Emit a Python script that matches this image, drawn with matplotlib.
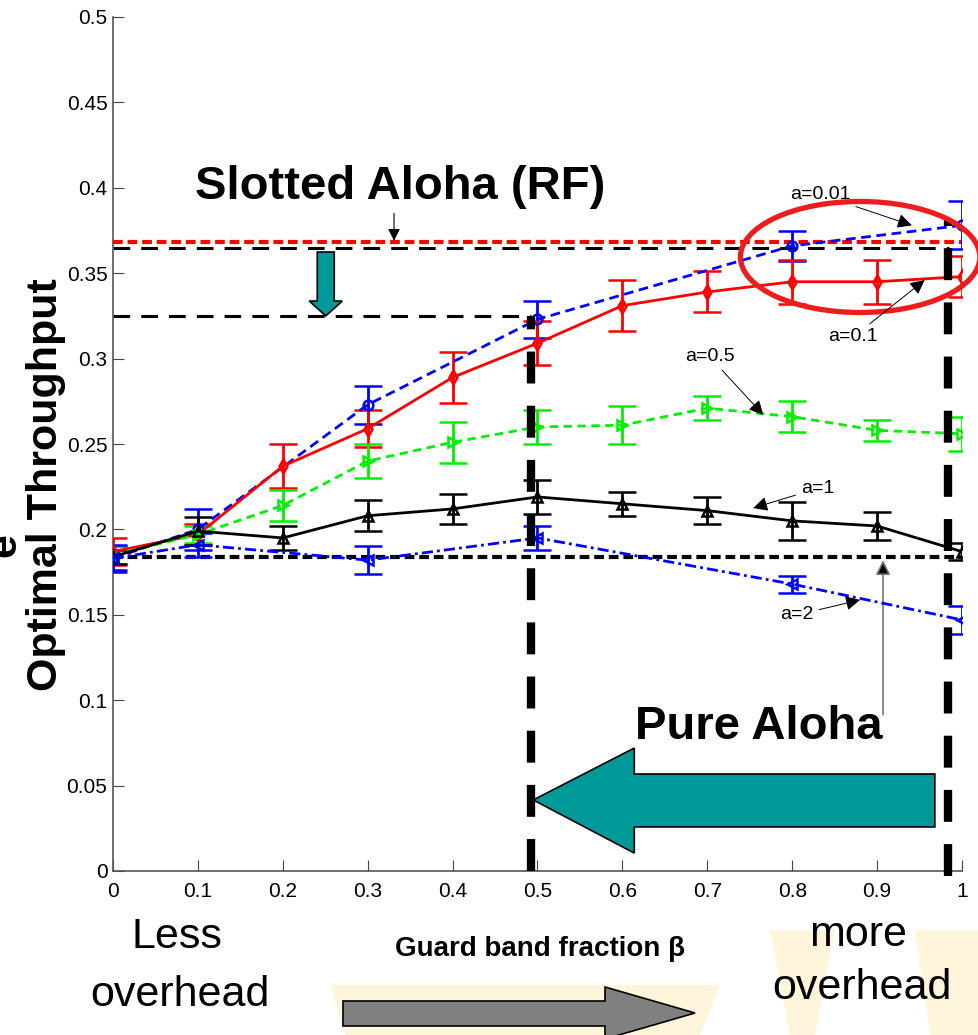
import matplotlib
matplotlib.use("Agg")
import matplotlib.pyplot as plt
from matplotlib.patches import Ellipse, Polygon

matplotlib.rcParams['lines.scale_dashes'] = False
narrow = ['Liberation Sans Narrow', 'Liberation Sans', 'DejaVu Sans']
sans = ['Liberation Sans', 'DejaVu Sans']

# guard band fraction (x)
beta_full = [0, 0.1, 0.2, 0.3, 0.4, 0.5, 0.6, 0.7, 0.8, 0.9, 1.0]
beta_part = [0, 0.1, 0.3, 0.5, 0.8, 1.0]

# a = 0.01 (blue dashed)
thr_a001 = [0.183, 0.200, 0.273, 0.323, 0.366, 0.378]
err_a001 = [0.007, 0.012, 0.011, 0.011, 0.009, 0.014]
# a = 0.1 (red solid)
thr_a01 = [0.187, 0.197, 0.237, 0.259, 0.289, 0.309, 0.331, 0.339, 0.345, 0.345, 0.348]
err_a01 = [0.008, 0.006, 0.013, 0.011, 0.015, 0.013, 0.015, 0.012, 0.013, 0.013, 0.012]
# a = 0.5 (green dashed)
thr_a05 = [0.185, 0.197, 0.214, 0.240, 0.251, 0.260, 0.261, 0.271, 0.266, 0.258, 0.256]
err_a05 = [0.005, 0.005, 0.009, 0.010, 0.012, 0.010, 0.011, 0.007, 0.009, 0.006, 0.010]
# a = 1 (black solid)
thr_a1 = [0.184, 0.199, 0.195, 0.208, 0.212, 0.219, 0.215, 0.211, 0.205, 0.202, 0.187]
err_a1 = [0.004, 0.008, 0.007, 0.009, 0.009, 0.010, 0.007, 0.008, 0.011, 0.008, 0.005]
# a = 2 (blue dash-dot)
thr_a2 = [0.183, 0.191, 0.182, 0.195, 0.168, 0.147]
err_a2 = [0.008, 0.007, 0.008, 0.007, 0.005, 0.008]

slotted_rf = 0.368
slotted_ref = 0.365
slotted_guard = 0.325
pure_aloha = 0.184

W, H = 979, 1035
fig = plt.figure(figsize=(W / 100, H / 100), dpi=100)
ax = fig.add_axes([113 / W, 1 - 871 / H, 849 / W, 854 / H])


def fx(px):
    return px / W


def fy(py):
    return 1 - py / H


# faint slide background pieces at the bottom
for verts in ([(330, 985), (720, 985), (700, 1035), (345, 1035)],
              [(770, 930), (835, 930), (815, 1035), (790, 1035)],
              [(915, 930), (979, 930), (979, 1035), (930, 1035)]):
    fig.patches.append(Polygon([(fx(a), fy(b)) for a, b in verts], closed=True,
                               transform=fig.transFigure, facecolor='#fef5da',
                               edgecolor='none', zorder=0))

# reference lines
ax.plot([0, 1], [slotted_rf, slotted_rf], color='red', lw=3, dashes=(7, 3.5), zorder=3)
ax.plot([0, 0.985], [slotted_ref, slotted_ref], color='black', lw=2.2, dashes=(12, 8), zorder=2)
ax.plot([0, 0.492], [slotted_guard, slotted_guard], color='black', lw=2.2, dashes=(12, 8), zorder=2)
ax.plot([0, 1], [pure_aloha, pure_aloha], color='black', lw=3, dashes=(7, 3.5), zorder=2)

ekw = dict(capsize=10, capthick=2, elinewidth=2, markersize=7, mfc='none', mew=1.8, zorder=4)
ax.errorbar(beta_part, thr_a001, yerr=err_a001, color='#0000ff', marker='o',
            lw=2, dashes=(7, 4), **ekw)
ax.errorbar(beta_full, thr_a01, yerr=err_a01, color='#ff0000', marker='d',
            lw=2, **ekw)
ax.errorbar(beta_full, thr_a05, yerr=err_a05, color='#00f000', marker='>',
            lw=2, dashes=(6, 4), **ekw)
ax.errorbar(beta_full, thr_a1, yerr=err_a1, color='black', marker='^',
            lw=2, **ekw)
ax.errorbar(beta_part, thr_a2, yerr=err_a2, color='#0000ff', marker='<',
            lw=2, dashes=(8, 3, 2, 3), **ekw)

# thick vertical guard lines
ax.plot([0.492, 0.492], [0, slotted_guard], color='black', lw=6, dashes=(23, 16), zorder=6,
        clip_on=False)
ax.plot([0.983, 0.983], [-0.003, 0.381], color='black', lw=6, dashes=(23, 16), zorder=6,
        clip_on=False)

# red ellipse
ax.add_patch(Ellipse((0.88, 0.3595), 0.282, 0.065, fill=False, edgecolor='#ee1c1c',
                     lw=3.8, zorder=7, clip_on=False))

# big teal arrow (leftwards)
ax.add_patch(Polygon([(0.495, 0.0416), (0.614, 0.072), (0.614, 0.0568), (0.968, 0.0568),
                      (0.968, 0.0258), (0.614, 0.0258), (0.614, 0.0105)], closed=True,
                     facecolor='#009999', edgecolor='black', lw=1.2, zorder=5))
# small teal arrow (downwards)
ax.add_patch(Polygon([(0.2506, 0.325), (0.2311, 0.3337), (0.2406, 0.3337), (0.2406, 0.3624),
                      (0.2606, 0.3624), (0.2606, 0.3337), (0.2701, 0.3337)], closed=True,
                     facecolor='#009999', edgecolor='black', lw=1.2, zorder=5))

# annotations
akw = dict(arrowstyle='-|>', color='black', lw=0.7, mutation_scale=22, shrinkA=2, shrinkB=0)
tkw = dict(fontsize=14, family=narrow, ha='center', va='center')
ax.annotate('a=0.01', xy=(0.941, 0.378), xytext=(0.833, 0.396), arrowprops=akw, zorder=8, **tkw)
ax.annotate('a=0.1', xy=(0.956, 0.346), xytext=(0.872, 0.3127), arrowprops=akw, zorder=8, **tkw)
ax.annotate('a=0.5', xy=(0.766, 0.267), xytext=(0.703, 0.301), arrowprops=akw, zorder=8, **tkw)
ax.annotate('a=1', xy=(0.754, 0.2125), xytext=(0.830, 0.224), arrowprops=akw, zorder=8, **tkw)
ax.annotate('a=2', xy=(0.880, 0.1587), xytext=(0.806, 0.150), arrowprops=akw, zorder=8, **tkw)
ax.annotate('', xy=(0.331, 0.369), xytext=(0.331, 0.385),
            arrowprops=dict(arrowstyle='-|>', color='black', lw=0.8, mutation_scale=18,
                            shrinkA=0, shrinkB=0))
ax.annotate('', xy=(0.907, 0.182), xytext=(0.907, 0.0915),
            arrowprops=dict(arrowstyle='-|>', color='#777777', lw=1.2, mutation_scale=22,
                            fc='black', shrinkA=0, shrinkB=0))

ax.text(0.338, 0.4005, 'Slotted Aloha (RF)', fontsize=34, fontweight='bold', family=sans,
        ha='center', va='center', zorder=8)
ax.text(0.761, 0.0843, 'Pure Aloha', fontsize=34, fontweight='bold', family=sans,
        ha='center', va='center', zorder=8)

# axes styling
ax.set_xlim(0, 1)
ax.set_ylim(0, 0.5)
ax.set_xticks(beta_full)
ax.set_xticklabels(['0', '0.1', '0.2', '0.3', '0.4', '0.5', '0.6', '0.7', '0.8', '0.9', '1'])
ax.set_yticks([0, 0.05, 0.1, 0.15, 0.2, 0.25, 0.3, 0.35, 0.4, 0.45, 0.5])
ax.set_yticklabels(['0', '0.05', '0.1', '0.15', '0.2', '0.25', '0.3', '0.35', '0.4', '0.45', '0.5'])
for lab in ax.get_xticklabels() + ax.get_yticklabels():
    lab.set_family(narrow)
    lab.set_fontsize(15)
ax.tick_params(direction='in', length=8, width=0.8, color='#444444', pad=4)
ax.tick_params(axis='x', pad=8)
for s in ['top', 'right']:
    ax.spines[s].set_visible(False)
for s in ['left', 'bottom']:
    ax.spines[s].set_color('#555555')
    ax.spines[s].set_linewidth(1.2)

ax.set_xlabel('Guard band fraction β', fontsize=20, fontweight='bold', family=narrow)
ax.xaxis.set_label_coords((540 - 113) / 849, (871 - 936) / 854)
ax.set_ylabel('Optimal Throughput', fontsize=31, fontweight='bold', family=sans)
ax.yaxis.set_label_coords((66 - 113) / 849, (871 - 485) / 854)

fig.text(fx(4), fy(545), 'e', fontsize=31, fontweight='bold', family=sans, rotation=90,
         ha='center', va='center')

fig.text(fx(177), fy(937), 'Less', fontsize=31, family=sans, ha='center', va='center')
fig.text(fx(180), fy(995), 'overhead', fontsize=31, family=sans, ha='center', va='center')
fig.text(fx(858), fy(935), 'more', fontsize=31, family=sans, ha='center', va='center')
fig.text(fx(862), fy(988), 'overhead', fontsize=31, family=sans, ha='center', va='center')

# gray arrow at bottom (figure coords)
gray = [(343, 1001), (605, 1001), (605, 987), (695, 1013), (605, 1039), (605, 1026), (343, 1026)]
fig.patches.append(Polygon([(fx(a), fy(b)) for a, b in gray], closed=True,
                           transform=fig.transFigure, facecolor='#808080',
                           edgecolor='black', lw=1.2, zorder=3))

fig.savefig('out.png', dpi=100)
